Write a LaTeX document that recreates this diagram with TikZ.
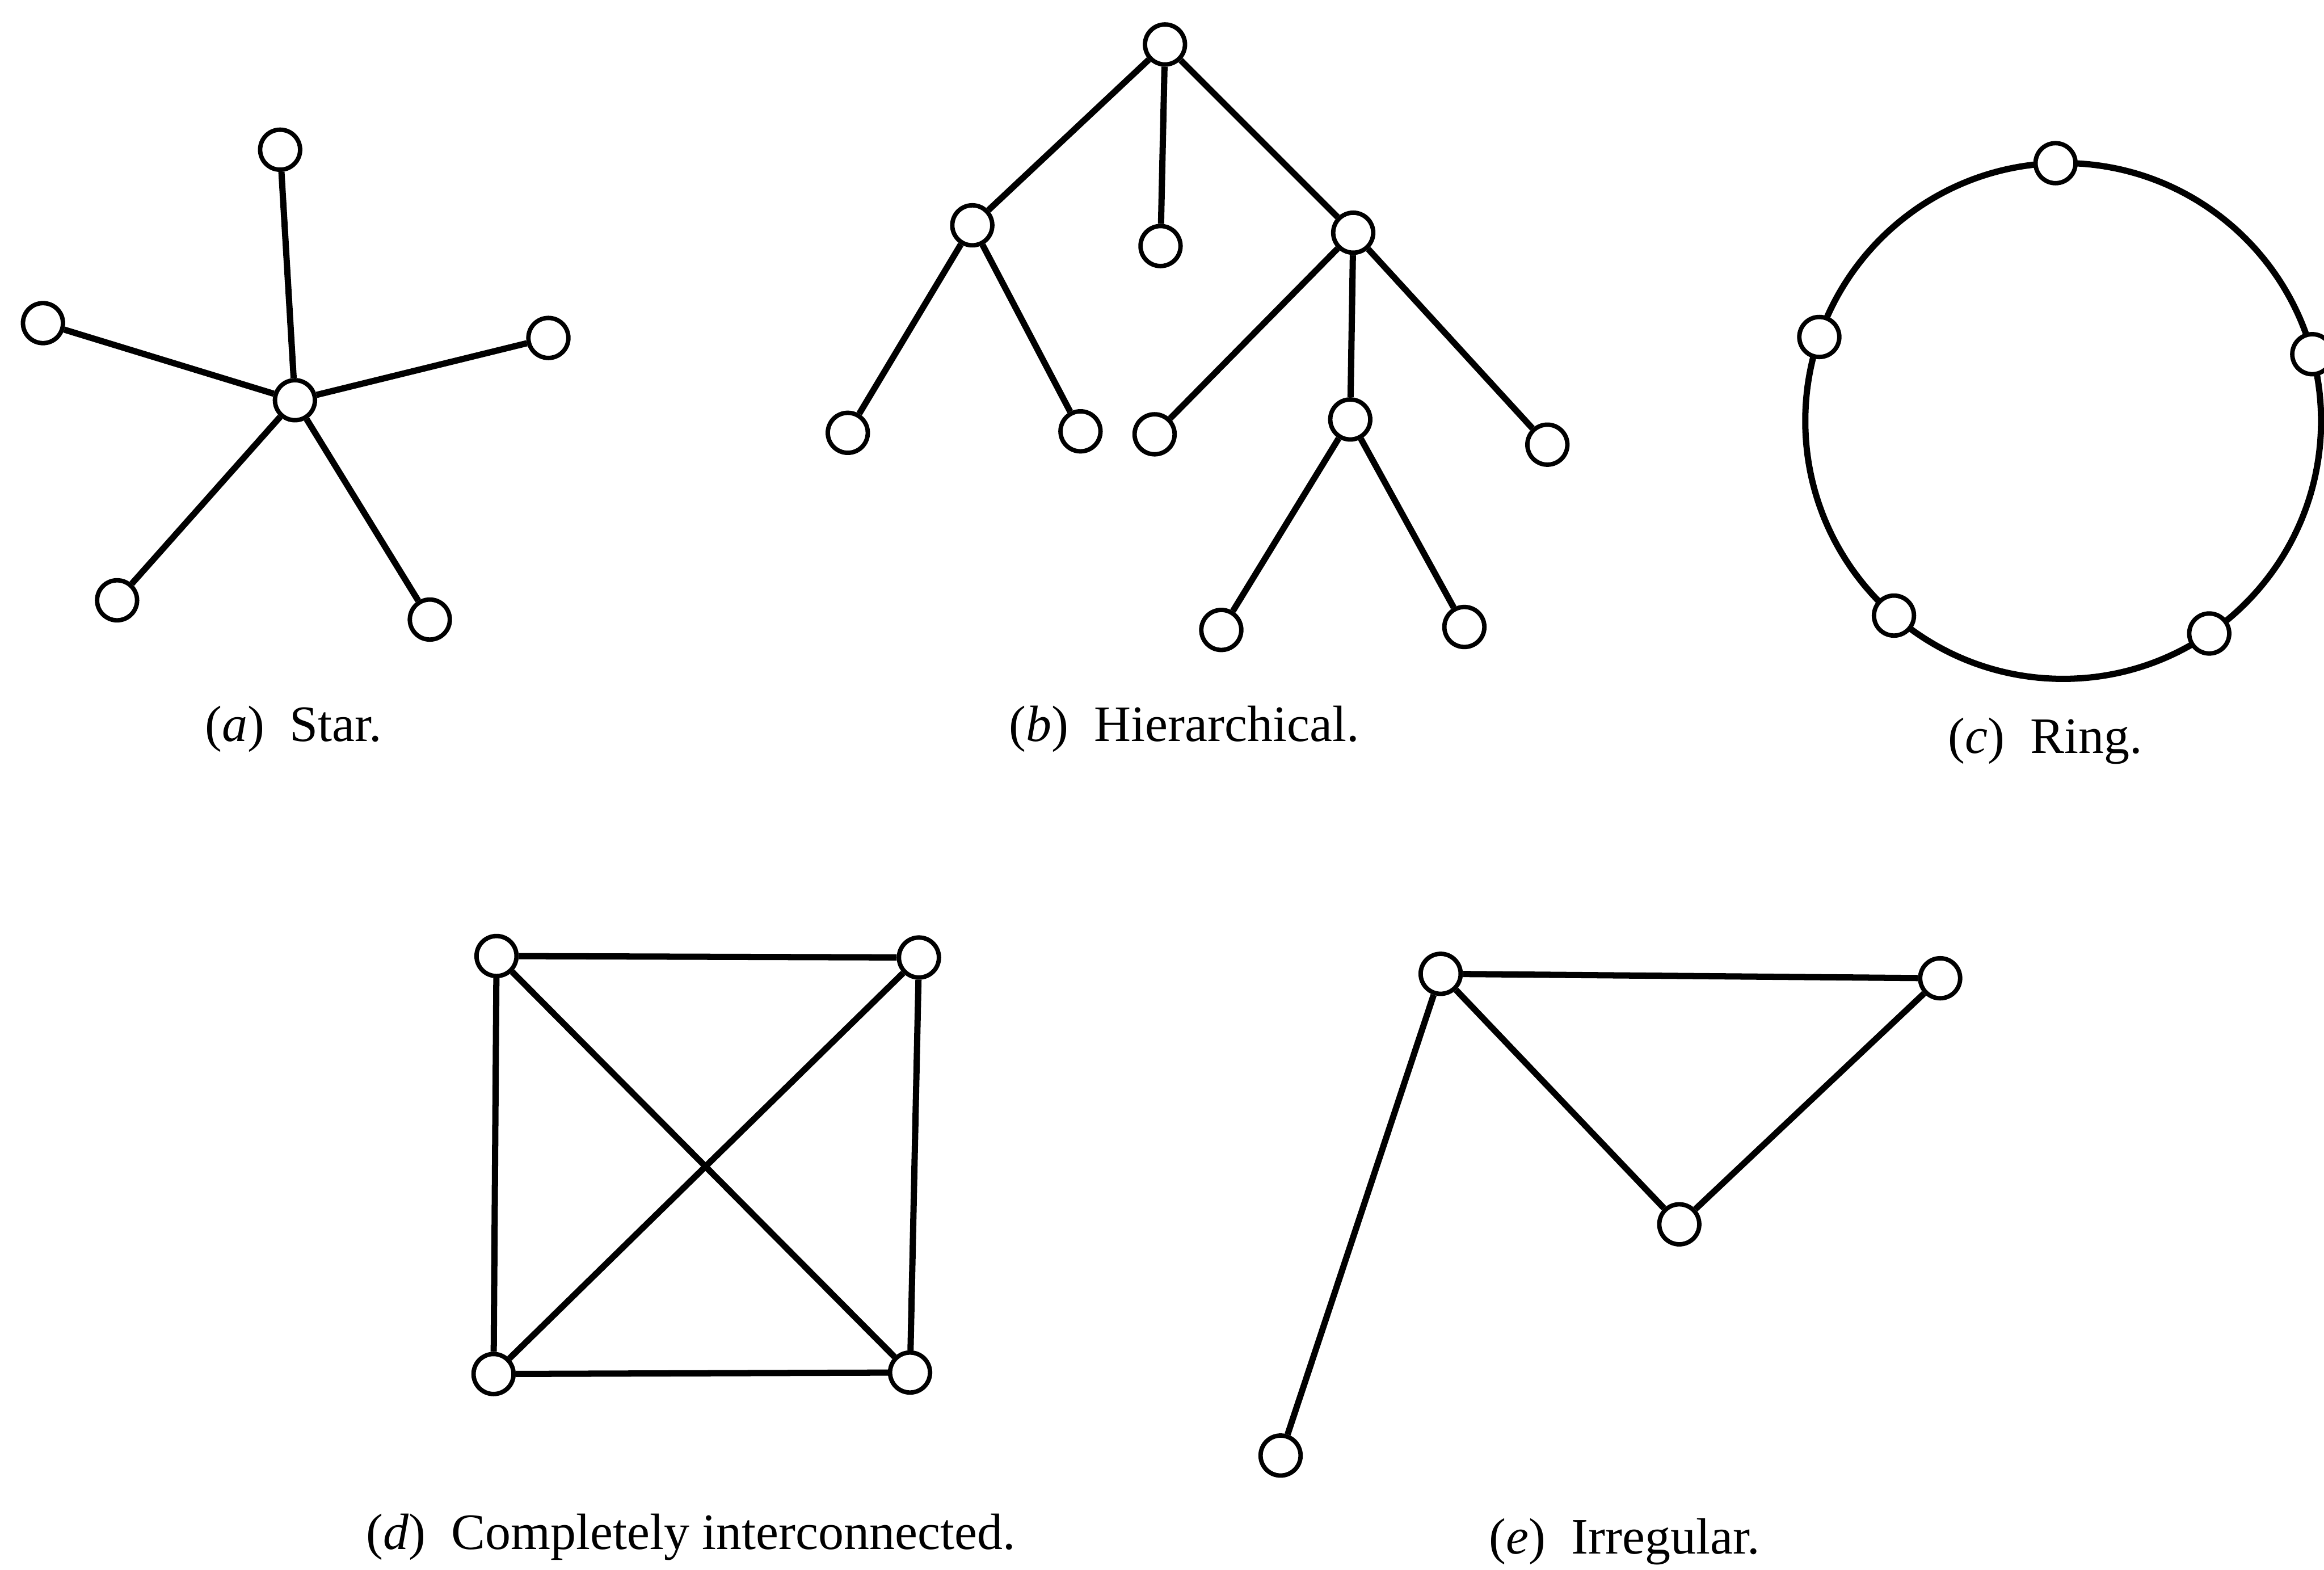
\documentclass[tikz,border=0pt]{standalone}
\usepackage{fontspec}
\setmainfont{Liberation Serif}
\usepackage{tikz}
\usetikzlibrary{positioning,calc}

\begin{document}
\begin{tikzpicture}[
  vert/.style={circle,draw=black,fill=white,line width=0.85pt,minimum size=0.27cm,inner sep=0pt},
  link/.style={draw=black,line width=1.2pt},
  caption/.style={font=\fontsize{9.8}{12}\selectfont,inner sep=0pt}
]
\useasboundingbox (0,0) rectangle (15.68,-10.59);

\node[vert] (sc) at (1.99,-2.70) {};
\node[vert] (s1) at (1.89,-1.01) {};
\node[vert] (s2) at (0.29,-2.18) {};
\node[vert] (s3) at (3.70,-2.28) {};
\node[vert] (s4) at (0.79,-4.05) {};
\node[vert] (s5) at (2.90,-4.18) {};
\draw[link] (sc) -- (s1);
\draw[link] (sc) -- (s2);
\draw[link] (sc) -- (s3);
\draw[link] (sc) -- (s4);
\draw[link] (sc) -- (s5);

\node[vert] (h0) at (7.86,-0.30) {};
\node[vert] (h1) at (6.56,-1.52) {};
\node[vert] (h2) at (7.83,-1.66) {};
\node[vert] (h3) at (9.13,-1.57) {};
\node[vert] (h4) at (5.72,-2.92) {};
\node[vert] (h5) at (7.29,-2.91) {};
\node[vert] (h6) at (7.79,-2.93) {};
\node[vert] (h7) at (9.11,-2.83) {};
\node[vert] (h8) at (10.44,-3.00) {};
\node[vert] (h9) at (8.24,-4.25) {};
\node[vert] (h10) at (9.88,-4.23) {};
\draw[link] (h0) -- (h1);
\draw[link] (h0) -- (h2);
\draw[link] (h0) -- (h3);
\draw[link] (h1) -- (h4);
\draw[link] (h1) -- (h5);
\draw[link] (h3) -- (h6);
\draw[link] (h3) -- (h7);
\draw[link] (h3) -- (h8);
\draw[link] (h7) -- (h9);
\draw[link] (h7) -- (h10);

\coordinate (rc) at (13.92,-2.84);
\draw[link] (rc) circle (1.74);
\node[vert] (r1) at ($(rc)+(91.7:1.74)$) {};
\node[vert] (r2) at ($(rc)+(161:1.74)$) {};
\node[vert] (r3) at ($(rc)+(15:1.74)$) {};
\node[vert] (r4) at ($(rc)+(229:1.74)$) {};
\node[vert] (r5) at ($(rc)+(304.5:1.74)$) {};

\node[vert] (c1) at (3.35,-6.45) {};
\node[vert] (c2) at (6.20,-6.46) {};
\node[vert] (c3) at (3.33,-9.27) {};
\node[vert] (c4) at (6.14,-9.26) {};
\draw[link] (c1) -- (c2);
\draw[link] (c1) -- (c3);
\draw[link] (c1) -- (c4);
\draw[link] (c2) -- (c3);
\draw[link] (c2) -- (c4);
\draw[link] (c3) -- (c4);

\node[vert] (e1) at (9.72,-6.57) {};
\node[vert] (e2) at (13.09,-6.60) {};
\node[vert] (e3) at (11.33,-8.26) {};
\node[vert] (e4) at (8.64,-9.82) {};
\draw[link] (e4) -- (e1);
\draw[link] (e1) -- (e2);
\draw[link] (e1) -- (e3);
\draw[link] (e3) -- (e2);

\node[caption] (capa) at (1.98,-4.92) {(\textit{a})\enspace Star.};
\node[caption] (capb) at (7.99,-4.92) {(\textit{b})\enspace Hierarchical.};
\node[caption] (capc) at (13.80,-5.00) {(\textit{c})\enspace Ring.};
\node[caption] (capd) at (4.66,-10.37) {(\textit{d})\enspace Completely interconnected.};
\node[caption] (cape) at (10.96,-10.40) {(\textit{e})\enspace Irregular.};
\end{tikzpicture}
\end{document}
